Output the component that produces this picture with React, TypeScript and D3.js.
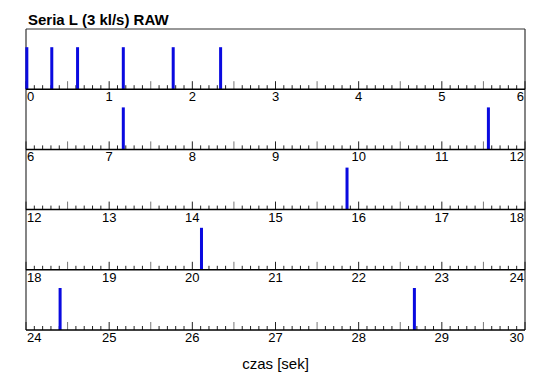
import React from 'react';
import * as d3 from 'd3';

// spike times [s]
const spikeTimes = [0.01, 0.31, 0.62, 1.17, 1.77, 2.34, 7.17, 11.56, 15.86, 20.11, 24.41, 28.67];
const rowStarts = [0, 6, 12, 18, 24];
const rowSpan = 6;
const title = 'Seria L (3 kl/s) RAW';
const xLabel = 'czas [sek]';

const W = 550;
const H = 389;
const left = 26;
const right = 525;
const top = 29;
const rowH = 60.2;
const barH = 42;
const font = '"Liberation Sans", Arial, Helvetica, sans-serif';

const App: React.FC = () => {
  const x = d3.scaleLinear().domain([0, rowSpan]).range([left, right]);
  const rowY = d3.scaleLinear().domain([0, rowStarts.length]).range([top, top + rowH * rowStarts.length]);
  const minor = d3.range(0, rowSpan * 10 + 1).map(d => d / 10);

  return (
    <svg width={W} height={H} style={{ position: 'absolute', left: 0, top: 0 }} fontFamily={font}>
      <rect width={W} height={H} fill="#fff" />
      <text x={28} y={25} fontSize={15} fontWeight="bold">{title}</text>
      {/* frame */}
      <line x1={left} x2={right} y1={top} y2={top} stroke="#333" strokeWidth={1.2} />
      <line x1={left} x2={left} y1={top} y2={rowY(rowStarts.length)} stroke="#333" strokeWidth={1.2} />
      <line x1={right} x2={right} y1={top} y2={rowY(rowStarts.length)} stroke="#333" strokeWidth={1.2} />
      {rowStarts.map((start, i) => {
        const base = rowY(i + 1);
        const spikes = spikeTimes.filter(t => t >= start && t < start + rowSpan);
        const labels = d3.range(0, rowSpan + 1);
        return (
          <g key={start}>
            {minor.map((m, k) => {
              const isInt = k % 10 === 0;
              const isHalf = k % 5 === 0;
              const len = isInt || isHalf ? 8 : 4;
              return (
                <line key={k} x1={x(m)} x2={x(m)} y1={base} y2={base - len}
                  stroke={isHalf && !isInt ? '#777' : '#222'} strokeWidth={1} />
              );
            })}
            {spikes.map(t => (
              <rect key={t} x={x(t - start) - 1.5} width={3} y={base - barH} height={barH} fill="#0a0ae0" />
            ))}
            <line x1={left} x2={right} y1={base} y2={base} stroke="#000" strokeWidth={1.5} />
            {labels.map((l, k) => (
              <text key={l} x={k === 0 ? left + 1 : k === rowSpan ? right - 1 : x(l)} y={base + 12}
                fontSize={13}
                textAnchor={k === 0 ? 'start' : k === rowSpan ? 'end' : 'middle'}>
                {start + l}
              </text>
            ))}
          </g>
        );
      })}
      <text x={(left + right) / 2} y={369} fontSize={15} textAnchor="middle">{xLabel}</text>
    </svg>
  );
};

export default App;
